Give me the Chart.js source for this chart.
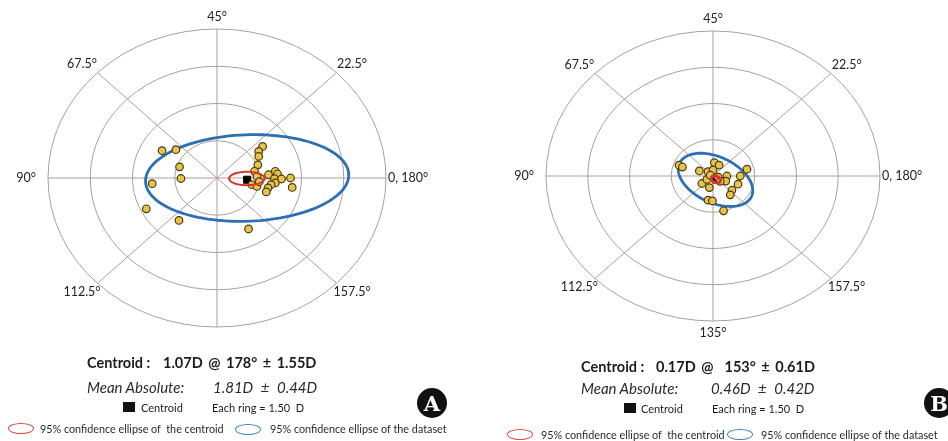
<!DOCTYPE html>
<html>
<head>
<meta charset="utf-8">
<script src="https://cdn.jsdelivr.net/npm/chart.js@4.4.0/dist/chart.umd.min.js"></script>
<style>
  body { margin: 0; background: #fff; font-family: Lato, "Open Sans", sans-serif; color: #1c1c1c; }
  #wrap { position: relative; width: 948px; height: 441px; overflow: hidden; background: #fff; }
  canvas { position: absolute; top: 0; }
  .t { position: absolute; white-space: nowrap; line-height: 1; transform: translateY(-50%); }
  .big { font-size: 14.5px; font-weight: 700; }
  .it { font-size: 15px; font-style: italic; color: #2a2a2a; }
  .sm { font-size: 11px; }
  .lg { font-size: 10.8px; color: #2a2a2a; }
  .sq { position: absolute; width: 12px; height: 10px; background: #111; }
  .ell { position: absolute; width: 24px; height: 9px; border-radius: 50%; box-sizing: content-box; }
  .badge { position: absolute; width: 30px; height: 30px; border-radius: 50%; background: #111; color: #fff;
           font: bold 21px "DejaVu Serif", "Liberation Serif", serif; text-align: center; line-height: 31px; }
</style>
</head>
<body>
<div id="wrap">
  <canvas id="chartA" width="474" height="441" style="left:0"></canvas>
  <canvas id="chartB" width="474" height="441" style="left:474px"></canvas>

  <!-- panel A text -->
  <div class="t big" style="left:87px;top:363px">Centroid :</div>
  <div class="t big" style="left:163px;top:363px;word-spacing:2px">1.07D @ 178° ± 1.55D</div>
  <div class="t it" style="left:87px;top:387px">Mean Absolute:</div>
  <div class="t it" style="left:213px;top:387px;word-spacing:4px">1.81D ± 0.44D</div>
  <div class="sq" style="left:123px;top:402px"></div>
  <div class="t sm" style="left:141px;top:407px">Centroid</div>
  <div class="t sm" style="left:212px;top:407px">Each ring = 1.50&nbsp;&nbsp;D</div>
  <div class="badge" style="left:417px;top:388px">A</div>
  <div class="ell" style="left:8px;top:423px;border:1.6px solid #d8473c"></div>
  <div class="t lg" style="left:40px;top:429px">95% confidence ellipse of&nbsp; the centroid</div>
  <div class="ell" style="left:235px;top:424px;border:1.6px solid #3a80c2"></div>
  <div class="t lg" style="left:270px;top:429px">95% confidence ellipse of the dataset</div>

  <!-- panel B text -->
  <div class="t big" style="left:581px;top:367px">Centroid :</div>
  <div class="t big" style="left:656px;top:367px;word-spacing:2px">0.17D @&nbsp; 153° ± 0.61D</div>
  <div class="t it" style="left:581px;top:388px">Mean Absolute:</div>
  <div class="t it" style="left:711px;top:388px;word-spacing:4px">0.46D ± 0.42D</div>
  <div class="sq" style="left:624px;top:403px"></div>
  <div class="t sm" style="left:641px;top:408px">Centroid</div>
  <div class="t sm" style="left:712px;top:408px">Each ring = 1.50&nbsp;&nbsp;D</div>
  <div class="badge" style="left:924px;top:388px">B</div>
  <div class="ell" style="left:507px;top:429px;border:1.6px solid #d8473c"></div>
  <div class="t lg" style="left:541px;top:435px">95% confidence ellipse of&nbsp; the centroid</div>
  <div class="ell" style="left:727px;top:429px;border:1.6px solid #3a80c2"></div>
  <div class="t lg" style="left:761px;top:435px">95% confidence ellipse of the dataset</div>
</div>

<script>
// grid: rings every 1.50 D, spokes every 22.5 deg of axis (doubled angle on the plot)
const ringStep = 1.5;
const ringCount = 4;
const angleTicks = [0, 22.5, 45, 67.5, 90, 112.5, 135, 157.5];
const angleLabelsA = ["0, 180°", "22.5°", "45°", "67.5°", "90°", "112.5°", "", "157.5°"];
const angleLabelsB = ["0, 180°", "22.5°", "45°", "67.5°", "90°", "112.5°", "135°", "157.5°"];

// panel A: double-angle vectors (D)
const xA = [-1.95, -1.46, -1.33, -1.28, -2.30, -2.51, -1.35, 1.12, 1.62, 1.48, 1.48, 1.45, 1.33, 1.42,
            1.24, 1.42, 1.83, 2.07, 2.15, 2.04, 2.29, 2.07, 1.92, 1.81, 1.75, 2.61, 2.67, 1.50];
const yA = [1.10, 1.14, 0.45, -0.02, -0.23, -1.24, -1.71, -2.05, 1.27, 1.07, 0.87, 0.53, 0.27, 0.06,
            -0.27, -0.34, 0.13, 0.27, 0.16, -0.03, -0.04, -0.20, -0.27, -0.40, -0.56, 0.00, -0.38, -0.15];
const centroidA = [1.07, -0.07];
// ellipse: [cx, cy, semi-major, semi-minor, tilt deg]
const centroidEllA = [1.06, -0.02, 0.63, 0.27, 0];
const dataEllA = [1.07, 0.0, 3.61, 1.74, 2.5];

// panel B
const xB = [-1.22, -1.10, 0.05, 0.22, -0.49, -0.18, 0.00, 1.22, -0.40, -0.22, -0.13, 0.50, 0.46, 0.98,
            0.90, 0.68, 0.62, -0.18, -0.02, 0.38, 0.19, 0.26, -0.10];
const yB = [0.45, 0.37, 0.55, 0.45, 0.21, 0.18, 0.25, 0.28, -0.31, -0.14, -0.48, 0.00, -0.21, 0.00,
            -0.34, -0.59, -0.78, -1.00, -1.03, -1.44, -0.05, -0.22, 0.03];
const centroidB = [0.10, -0.14];
const centroidEllB = [0.10, -0.14, 0.18, 0.13, -30];
const dataEllB = [0.09, -0.16, 1.47, 0.92, -32];

function ellipsePath(ctx, sx, sy, e) {
  const [cx, cy, a, b, deg] = e;
  const p = deg * Math.PI / 180;
  ctx.beginPath();
  for (let i = 0; i <= 120; i++) {
    const t = i / 120 * Math.PI * 2;
    const vx = cx + a * Math.cos(t) * Math.cos(p) - b * Math.sin(t) * Math.sin(p);
    const vy = cy + a * Math.cos(t) * Math.sin(p) + b * Math.sin(t) * Math.cos(p);
    const px = sx.getPixelForValue(vx), py = sy.getPixelForValue(vy);
    if (i === 0) ctx.moveTo(px, py); else ctx.lineTo(px, py);
  }
  ctx.closePath();
}

const polarGrid = {
  id: "polarGrid",
  beforeDatasetsDraw(chart, args, opts) {
    const { ctx, scales: { x, y } } = chart;
    const cx = x.getPixelForValue(0), cy = y.getPixelForValue(0);
    const R = ringCount * ringStep;
    ctx.save();
    ctx.strokeStyle = "#aaa09a";
    ctx.lineWidth = 1;
    for (let i = 1; i <= ringCount; i++) {
      const r = i * ringStep;
      ctx.beginPath();
      ctx.ellipse(cx, cy, x.getPixelForValue(r) - cx, cy - y.getPixelForValue(r), 0, 0, Math.PI * 2);
      ctx.stroke();
    }
    ctx.font = "12.5px Lato, 'Open Sans', sans-serif";
    ctx.fillStyle = "#222";
    ctx.textAlign = "center";
    ctx.textBaseline = "middle";
    angleTicks.forEach((a, i) => {
      const t = a * 2 * Math.PI / 180;
      const ex = x.getPixelForValue(R * Math.cos(t)), ey = y.getPixelForValue(R * Math.sin(t));
      ctx.beginPath();
      ctx.moveTo(cx, cy);
      ctx.lineTo(ex, ey);
      ctx.stroke();
      const lbl = opts.labels[i];
      if (lbl) ctx.fillText(lbl, ex + 22 * Math.cos(t), ey - 12 * Math.sin(t));
    });
    ctx.strokeStyle = "#2b70b4";
    ctx.lineWidth = 2.8;
    ellipsePath(ctx, x, y, opts.dataEll);
    ctx.stroke();
    ctx.restore();
  },
  afterDatasetsDraw(chart, args, opts) {
    const { ctx, scales: { x, y } } = chart;
    ctx.save();
    ctx.strokeStyle = "#d9352c";
    ctx.lineWidth = opts.centroidW;
    ellipsePath(ctx, x, y, opts.centroidEll);
    ctx.stroke();
    ctx.restore();
  }
};

function makeChart(id, xs, ys, cen, labels, cEll, dEll, pad, cw) {
  const pts = xs.map((v, i) => ({ x: v, y: ys[i] }));
  return new Chart(document.getElementById(id), {
    type: "scatter",
    data: {
      datasets: [
        { data: pts, pointRadius: 3.8, pointBackgroundColor: "#e6c44c", pointBorderColor: "#4a3a12", pointBorderWidth: 1.2 },
        { data: [{ x: cen[0], y: cen[1] }], pointStyle: "rect", pointRadius: 5, pointBackgroundColor: "#000", pointBorderColor: "#000" }
      ]
    },
    options: {
      responsive: false,
      animation: false,
      events: [],
      layout: { padding: pad },
      scales: {
        x: { display: false, min: -6, max: 6 },
        y: { display: false, min: -6, max: 6 }
      },
      plugins: {
        legend: { display: false },
        tooltip: { enabled: false },
        polarGrid: { labels: labels, centroidEll: cEll, dataEll: dEll, centroidW: cw }
      }
    },
    plugins: [polarGrid]
  });
}

makeChart("chartA", xA, yA, centroidA, angleLabelsA, centroidEllA, dataEllA,
  { left: 48, right: 88, top: 29, bottom: 114 }, 2);
makeChart("chartB", xB, yB, centroidB, angleLabelsB, centroidEllB, dataEllB,
  { left: 72, right: 68, top: 31, bottom: 120 }, 3);
</script>
</body>
</html>
